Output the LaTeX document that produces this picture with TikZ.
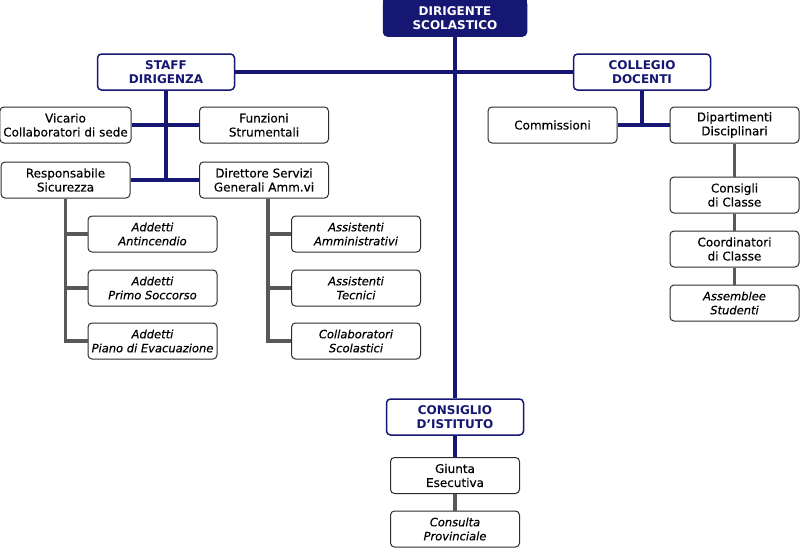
\documentclass[tikz,border=0pt]{standalone}
\usepackage{fontspec}
\setmainfont{DejaVu Sans}
\newfontfamily\testo{DejaVu Sans}[FakeBold=0.4]
\definecolor{navy}{RGB}{22, 22, 115}
\definecolor{linegray}{RGB}{88, 88, 88}
\definecolor{boxline}{RGB}{45, 45, 45}
\newcommand{\organo}[4]{
  \node[organo] (#1) at (#2, #3) {#4};
}
\newcommand{\ufficio}[5][]{
  \node[ufficio, #1] (#2) at (#3, #4) {#5};
}

\begin{document}
\begin{tikzpicture}[x=1pt, y=-1pt,
    organo/.style={draw=navy, line width=1.5, fill=white, rounded corners=4, minimum width=137, minimum height=36, align=center, text=navy, font=\fontsize{12}{14}\selectfont\bfseries},
    ufficio/.style={draw=boxline, line width=1, fill=white, rounded corners=4, minimum width=129, minimum height=36, align=center, font=\fontsize{12}{14}\selectfont\testo},
    corsivo/.style={inner xsep=1, font=\fontsize{11.5}{14}\selectfont\testo\itshape},
    blu/.style={navy, line width=3.5},
    grigio/.style={linegray, line width=3.5}]
  \fill[white] (0,0) rectangle (800,549);
  \useasboundingbox (0,0) rectangle (800,549);

  \node[organo, fill=navy, text=white, minimum width=143] (dir) at (455, 18) {DIRIGENTE\\SCOLASTICO};
  \fill[navy] (dir.north west) rectangle ([yshift=-4]dir.north east);

  \organo{staff}{166}{72}{STAFF\\DIRIGENZA}
  \organo{coll}{642}{72}{COLLEGIO\\DOCENTI}
  \organo{cdi}{455}{417}{CONSIGLIO\\D'ISTITUTO}

  \ufficio{vic}{65.5}{125}{Vicario\\Collaboratori di sede}
  \ufficio{funz}{264}{125}{Funzioni\\Strumentali}
  \ufficio{resp}{65.5}{180}{Responsabile\\Sicurezza}
  \ufficio{dsga}{264}{180}{Direttore Servizi\\Generali Amm.vi}

  \ufficio[corsivo]{anti}{152.5}{234}{Addetti\\Antincendio}
  \ufficio[corsivo]{primo}{152.5}{288}{Addetti\\Primo Soccorso}
  \ufficio[corsivo]{piano}{152.5}{341}{Addetti\\Piano di Evacuazione}

  \ufficio[corsivo]{amm}{356}{234}{Assistenti\\Amministrativi}
  \ufficio[corsivo]{tec}{356}{288}{Assistenti\\Tecnici}
  \ufficio[corsivo]{collab}{356}{341}{Collaboratori\\Scolastici}

  \ufficio{comm}{552.5}{125}{Commissioni}
  \ufficio{dip}{734.5}{125}{Dipartimenti\\Disciplinari}
  \ufficio{cons}{734.5}{195}{Consigli\\di Classe}
  \ufficio{coord}{734.5}{249}{Coordinatori\\di Classe}
  \ufficio[corsivo]{ass}{734.5}{303}{Assemblee\\Studenti}

  \ufficio{giunta}{455}{475.5}{Giunta\\Esecutiva}
  \ufficio[corsivo]{consulta}{455}{529}{Consulta\\Provinciale}

  % linee blu
  \draw[blu] (staff) -- (coll);
  \draw[blu] (dir) -- (cdi);
  \draw[blu] (cdi) -- (giunta);
  \draw[blu] (staff.south) -- (staff.south |- resp.east);
  \draw[blu] (vic) -- (funz);
  \draw[blu] (resp) -- (dsga);
  \draw[blu] (coll.south) -- (coll.south |- comm.east);
  \draw[blu] (comm) -- (dip);

  % linee grigie
  \draw[grigio] (dip) -- (cons);
  \draw[grigio] (cons) -- (coord);
  \draw[grigio] (coord) -- (ass);
  \draw[grigio] (giunta) -- (consulta);

  \draw[grigio] (resp.south) |- (piano.west);
  \foreach \n in {anti, primo}
    \draw[grigio] (resp.south |- \n.west) -- (\n.west);

  \coordinate (dsgaroot) at ([xshift=4]dsga.south);
  \draw[grigio] (dsgaroot) |- (collab.west);
  \foreach \n in {amm, tec}
    \draw[grigio] (dsgaroot |- \n.west) -- (\n.west);
\end{tikzpicture}
\end{document}
